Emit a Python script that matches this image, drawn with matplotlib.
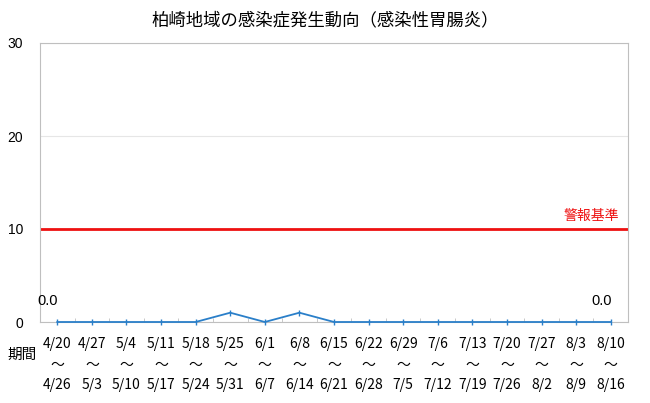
import matplotlib
matplotlib.use("Agg")
import matplotlib.pyplot as plt
import numpy as np

plt.rcParams['font.family'] = ['Noto Sans CJK JP', 'DejaVu Sans']

start_labels = ["4/20", "4/27", "5/4", "5/11", "5/18", "5/25", "6/1", "6/8", "6/15",
                "6/22", "6/29", "7/6", "7/13", "7/20", "7/27", "8/3", "8/10"]
end_labels = ["4/26", "5/3", "5/10", "5/17", "5/24", "5/31", "6/7", "6/14", "6/21",
              "6/28", "7/5", "7/12", "7/19", "7/26", "8/2", "8/9", "8/16"]
values = [0, 0, 0, 0, 0, 1, 0, 1, 0, 0, 0, 0, 0, 0, 0, 0, 0]
alert_level = 10
y_ticks = [0, 10, 20, 30]
title = "柏崎地域の感染症発生動向（感染性胃腸炎）"

fig = plt.figure(figsize=(6.5, 4.03), dpi=100)
ax = fig.add_axes([40/650, 1-322/403, 588/650, 279/403])

n = len(values)
x = np.arange(n)
ax.plot(x, values, color="#2a7fc9", lw=1.3, marker="|", ms=4, mew=1, zorder=3, clip_on=False)
ax.axhline(alert_level, color="#ee1111", lw=2, zorder=2)
ax.text(n - 0.75, alert_level + 0.6, "警報基準", color="#ee1111", fontsize=10,
        ha="right", va="bottom")

ax.set_xlim(-0.5, n - 0.5)
ax.set_ylim(0, 30)
ax.set_yticks(y_ticks)
ax.set_yticklabels([str(v) for v in y_ticks], fontsize=10, family=['Liberation Sans', 'DejaVu Sans'])
ax.grid(axis="y", color="#e6e6e6", lw=0.8)
ax.set_axisbelow(True)

ax.set_xticks(x)
ax.set_xticklabels([f"{s}\n～\n{e}" for s, e in zip(start_labels, end_labels)],
                   fontsize=10, linespacing=1.58)
ax.set_xticks(np.arange(n + 1) - 0.5, minor=True)
ax.tick_params(axis="x", which="major", length=0, pad=11)
ax.tick_params(axis="x", which="minor", length=3, direction="in", color="#bfbfbf")
ax.tick_params(axis="y", length=0, pad=12)

for sp in ax.spines.values():
    sp.set_color("#bfbfbf")
    sp.set_linewidth(0.8)

# end value labels
ax.annotate(f"{values[0]:.1f}", (x[0], values[0]), xytext=(-14, 12), textcoords="offset points",
            fontsize=10.5, family=['Liberation Sans', 'DejaVu Sans'])
ax.annotate(f"{values[-1]:.1f}", (x[-1], values[-1]), xytext=(-14, 12), textcoords="offset points",
            fontsize=10.5, family=['Liberation Sans', 'DejaVu Sans'])

fig.text(22/650, 1-355/403, "期間", fontsize=10.5, ha="center", va="center")
fig.text(0.5, 1-20/403, title, fontsize=12.5, ha="center", va="center")

fig.savefig("out.png", dpi=100)
